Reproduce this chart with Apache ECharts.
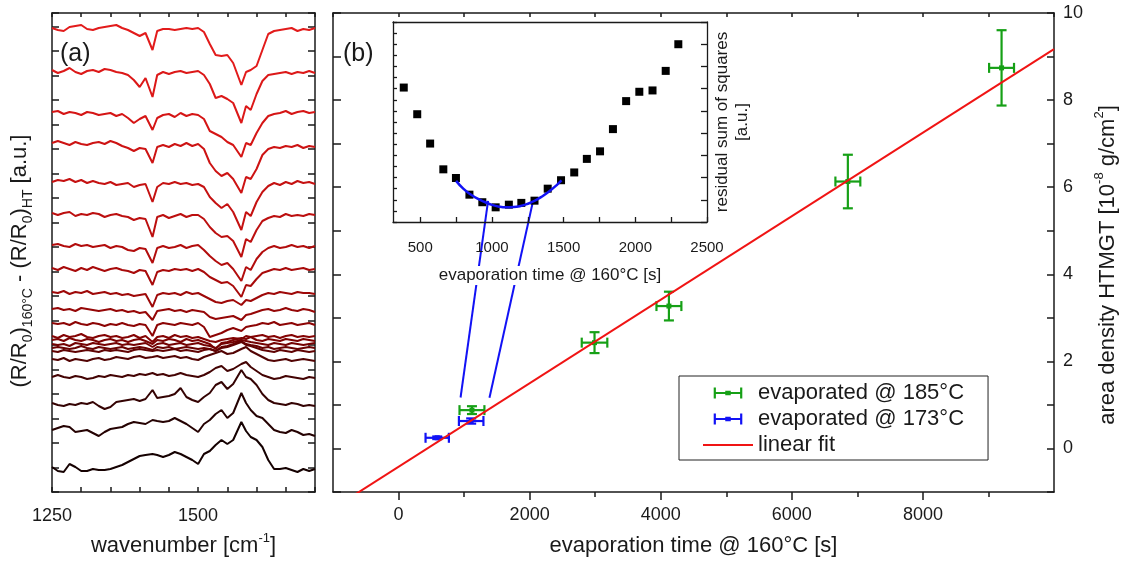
<!DOCTYPE html>
<html><head><meta charset="utf-8">
<script src="https://cdn.jsdelivr.net/npm/echarts@6/dist/echarts.min.js"></script>
<style>html,body{margin:0;padding:0;background:#fff}#c{width:1125px;height:563px}</style>
</head><body><div id="c"></div>
<script>
// ---------- panel (a): spectra ----------
const wavenumbers = [1250,1260,1270,1280,1290,1300,1310,1320,1330,1340,1350,1360,1370,1380,1390,1400,1410,1422,1430,1440,1450,1460,1470,1480,1490,1500,1510,1520,1530,1540,1550,1560,1574,1582,1590,1600,1610,1620,1630,1640,1650,1660,1670,1680,1690,1700];
const spectraOffsets = [464,422,380,349,310,279,247,224,200,183,169,156,152,148,144,141,133,115,89,62,25];
const spectrum01 = [0,-2,-3,1,2,3,-1,-2,0,1, 2,3,0,-2,-5,-8,-5,-22,-3,-1, -1,-2,-1,0,-1,0,-4,-16,-27,-28, -27,-35,-57,-44,-42,-38,-22,-6,-3,-2, -1,0,-3,-1,-2,0];
const spectrum02 = [0,-3,-1,2,-2,-4,-1,0,-2,1, 0,-2,-3,-5,-10,-17,-8,-27,-5,-2, -4,-2,-1,-3,-2,-1,-5,-14,-28,-26, -29,-33,-53,-36,-40,-24,-11,-5,-4,-3, -2,-4,-2,-3,-1,-3];
const spectrum03 = [0,1,-2,0,-1,-3,0,-1,-3,-2, -1,-4,-2,-6,-11,-7,-4,-18,-6,-3, -2,-5,-1,-4,-2,-3,-7,-19,-22,-25, -30,-33,-45,-31,-33,-21,-11,-4,-2,-1, 1,-2,0,1,-1,0];
const spectrum04 = [0,2,0,-2,1,-1,-2,0,1,-1, 2,0,-3,-5,-8,-5,-6,-20,-4,-2, -4,-1,-3,0,-3,-1,-6,-20,-28,-33, -30,-36,-50,-34,-36,-26,-12,-6,-4,-5, -3,-4,-2,-5,-3,-4];
const spectrum05 = [0,2,1,3,0,2,-1,1,-1,-2, 0,-3,-2,-1,-5,-3,-2,-20,-5,-1, -2,0,-2,-1,-3,-2,-5,-15,-21,-26, -22,-30,-48,-30,-34,-20,-10,-4,-1,-3, 0,-2,1,-1,0,-2];
const spectrum06 = [0,-2,0,1,-3,-1,-2,0,-1,-4, -2,-1,-3,-4,-7,-5,-6,-24,-4,-2, -5,-3,-1,-4,-2,-2,-6,-14,-20,-24, -23,-28,-44,-26,-29,-17,-8,-5,-3,-4, -1,-3,-2,-3,-1,-2];
const spectrum07 = [0,1,-1,-2,1,-1,0,-2,-1,0, -3,-1,-2,-5,-6,-3,-4,-18,-3,-1, -3,-2,0,-3,-1,0,-5,-11,-16,-20, -18,-24,-36,-22,-25,-14,-7,-3,-1,-3, -2,0,-2,-1,-3,-1];
const spectrum08 = [0,-2,1,-1,-3,0,-2,1,-1,-3, -1,0,-2,-3,-5,-2,-3,-17,-4,-2, -3,-1,-2,-1,-3,-1,-4,-9,-12,-15, -14,-18,-29,-17,-18,-11,-5,-3,-1,-2, 0,-2,-1,0,-2,-1];
const spectrum09 = [0,-1,1,-2,0,-1,1,-2,-1,0, -2,-1,-3,-2,-4,-3,-2,-15,-3,-1, -2,-1,-3,0,-2,-1,-4,-7,-10,-11, -9,-8,-13,-8,-9,-6,-3,-1,-2,0, -1,-2,0,-1,-1,-2];
const spectrum10 = [0,1,-1,0,-2,1,0,-1,-2,-1, 0,-2,-1,-3,-2,-4,-3,-11,-2,-1, 0,-2,-1,-3,-1,-2,-3,-8,-10,-9, -8,-7,-11,-6,-5,-3,-1,0,-2,-1, 1,-1,-2,0,-1,-3];
const spectrum11 = [0,-1,0,-2,1,-1,-2,0,-1,-3, -1,-2,0,-2,-3,-1,-2,-13,-2,0, -1,-2,0,-1,-2,0,-4,-14,-12,-10, -7,-5,-8,-4,-3,-2,0,-1,1,-2, -1,0,-2,-1,0,-2];
const spectrum12 = [0,-2,1,-1,0,2,-1,-2,0,1, -1,0,-2,-1,1,-2,0,-6,-1,0, -2,1,-1,0,-2,-1,-3,-5,-6,-4, -3,-2,-3,0,-1,0,1,-1,0,-2, 0,1,-1,0,-1,0];
const spectrum13 = [0,1,-1,2,0,-1,1,0,-2,0, 1,-1,0,-2,0,1,-1,-4,0,-1, 1,0,-2,1,-1,0,-2,-4,-9,-3, -2,0,2,1,3,0,-1,1,0,-1, 1,0,-1,1,0,-1];
const spectrum14 = [0,-1,0,-2,1,0,-1,1,0,-1, 0,1,-1,0,-1,0,1,-3,0,1, -1,0,1,-1,0,1,-1,-2,-4,0, 1,2,4,3,2,1,0,-1,1,0, -1,1,0,-1,0,1];
const spectrum15 = [0,1,0,-1,0,2,0,-1,1,0, -1,0,1,-1,0,1,0,-2,1,0, 1,-1,0,1,0,-1,0,-1,-3,1, 2,4,7,4,3,2,0,1,-1,0, 1,0,-1,0,1,0];
const spectrum16 = [0,-1,1,0,-1,0,1,0,-1,1, 0,1,0,-1,1,2,1,0,1,0, 1,2,0,1,0,-1,1,2,0,3, 4,6,9,6,5,3,1,0,-1,1, 0,-1,1,0,-1,0];
const spectrum17 = [0,-1,1,-2,0,-1,-2,0,1,-1, 0,2,1,0,2,3,1,2,3,1, 2,3,1,2,0,-1,2,4,6,8, 5,6,10,12,8,5,2,-1,-2,-1, 0,-2,-1,0,-1,-2];
const spectrum18 = [0,2,0,-1,1,0,-2,-1,1,0, 2,1,0,2,1,3,2,4,2,3, 1,2,4,2,1,0,2,5,9,11, 6,8,13,15,10,6,2,0,-2,-1, 1,0,-1,-2,0,-1];
const spectrum19 = [0,-2,-3,-1,-2,0,-1,1,-3,-6, -4,1,2,3,4,2,4,13,5,6, 7,9,15,6,3,1,6,10,18,21, 14,19,33,26,24,18,9,3,0,-1, -2,0,-1,-3,-2,-3];
const spectrum20 = [0,2,4,3,-2,-1,0,-3,-6,-2, 1,2,3,6,8,7,6,10,9,8, 9,12,9,6,2,-2,6,10,16,20, 12,17,37,27,20,14,12,6,0,-2, -3,0,-2,-5,-4,-6];
const spectrum21 = [0,-4,-5,3,0,-4,-4,-2,-3,-3, -2,0,2,5,8,11,12,13,12,10, 12,15,13,10,7,3,13,16,22,27, 23,27,45,36,30,27,20,7,-2,-2, -1,-3,-5,-2,-4,-2];
const spectraColors = ['#e21b1b','#dc1818','#d51515','#cd1313','#c51111','#bc0f0f','#b20c0c','#a80a0a','#9e0808','#950606','#8c0404','#840303','#7c0303','#740303','#6a0303','#600303','#520303','#430303','#340303','#250202','#150101'];
const aXLabels = [1250, 1500];

// ---------- panel (b): area density ----------
const green185Time = [1120, 2990, 4125, 6855, 9200];
const green185Area = [0.88, 2.43, 3.27, 6.13, 8.74];
const green185TimeErr = [190, 195, 190, 190, 190];
const green185AreaErr = [0.09, 0.24, 0.33, 0.615, 0.865];
const blue173Time = [590, 1108];
const blue173Area = [0.245, 0.63];
const blue173TimeErr = [178, 187];
const blue173AreaErr = [0.03, 0.06];
const linearFitTime = [-1000, 10000];
const linearFitArea = [-1.38, 9.17];
const connector1Time = [1366, 946];
const connector1Area = [5.685, 1.17];
const connector2Time = [2058, 1387];
const connector2Area = [5.724, 1.165];
const bXLabels = [0, 2000, 4000, 6000, 8000];
const bXMinorTicks = [1000, 3000, 5000, 7000, 9000];
const bYLabels = [0, 2, 4, 6, 8, 10];

// ---------- inset ----------
const residualTime = [385,479,569,661,749,843,933,1026,1118,1205,1297,1389,1482,1574,1662,1754,1844,1936,2028,2120,2212,2300];
const residualValue = [6.05,4.85,3.53,2.37,1.98,1.23,0.89,0.66,0.78,0.86,0.96,1.50,1.88,2.23,2.84,3.18,4.18,5.44,5.86,5.92,6.80,8.00];
const parabolaTime = [750,800,850,900,950,1000,1050,1100,1150,1200,1250,1300,1350,1400,1450,1485];
const parabolaValue = [1.85,1.50,1.25,1.05,0.90,0.77,0.69,0.66,0.67,0.72,0.82,0.96,1.15,1.38,1.65,1.87];
const insetXLabels = [500, 1000, 1500, 2000, 2500];
const insetXTicks = [500, 750, 1000, 1250, 1500, 1750, 2000, 2250, 2500];

// ---------- styles ----------
const FONT = "'Liberation Sans', Arial, Helvetica, sans-serif";
const TXT = '#1a1a1a';
const GREEN = '#16a016';
const BLUE = '#1212f5';
const RED = '#f01414';
const LS = {color: TXT, width: 1.5};

const zip = (a, b) => a.map((v, i) => [v, b[i]]);
const spectraList = [spectrum01,spectrum02,spectrum03,spectrum04,spectrum05,spectrum06,spectrum07,spectrum08,spectrum09,spectrum10,spectrum11,spectrum12,spectrum13,spectrum14,spectrum15,spectrum16,spectrum17,spectrum18,spectrum19,spectrum20,spectrum21];

function errRender(color) {
  return function (params, api) {
    const x = api.value(0), y = api.value(1), ex = api.value(2), ey = api.value(3);
    const c = api.coord([x, y]);
    const l = api.coord([x - ex, y]), r = api.coord([x + ex, y]);
    const t = api.coord([x, y + ey]), b = api.coord([x, y - ey]);
    const cap = 5;
    const st = {stroke: color, lineWidth: 2.2, fill: null};
    return {type: 'group', children: [
      {type: 'line', shape: {x1: l[0], y1: c[1], x2: r[0], y2: c[1]}, style: st},
      {type: 'line', shape: {x1: l[0], y1: c[1] - cap, x2: l[0], y2: c[1] + cap}, style: st},
      {type: 'line', shape: {x1: r[0], y1: c[1] - cap, x2: r[0], y2: c[1] + cap}, style: st},
      {type: 'line', shape: {x1: c[0], y1: t[1], x2: c[0], y2: b[1]}, style: st},
      {type: 'line', shape: {x1: c[0] - cap, y1: t[1], x2: c[0] + cap, y2: t[1]}, style: st},
      {type: 'line', shape: {x1: c[0] - cap, y1: b[1], x2: c[0] + cap, y2: b[1]}, style: st},
      {type: 'rect', shape: {x: c[0] - 2.5, y: c[1] - 2.5, width: 5, height: 5}, style: {fill: color}}
    ]};
  };
}
const ERR_ICON = 'path://M0,0h2v10h-2zM24,0h2v10h-2zM0,4h26v2h-26zM10.5,3h5v4h-5z';

const spectraSeries = spectraList.map((arr, i) => ({
  type: 'line', xAxisIndex: 0, yAxisIndex: 0, symbol: 'none', silent: true,
  data: wavenumbers.map((w, j) => [w, spectraOffsets[i] + arr[j]]),
  lineStyle: {color: spectraColors[i], width: 2}, z: 2
}));

const noLabel = {show: false};
const axisBase = (extra) => Object.assign({
  type: 'value', splitLine: {show: false},
  axisLine: {show: true, onZero: false, lineStyle: LS}
}, extra);

const option = {
  animation: false,
  backgroundColor: '#fff',
  textStyle: {fontFamily: FONT, color: TXT},
  grid: [
    {left: 52, top: 13, width: 263, height: 479, containLabel: false, outerBoundsMode: 'none'},
    {left: 333, top: 13, width: 721, height: 479, containLabel: false, outerBoundsMode: 'none'},
    {left: 393, top: 22, width: 314, height: 200, containLabel: false, outerBoundsMode: 'none'}
  ],
  xAxis: [
    axisBase({gridIndex: 0, position: 'bottom', min: 1250, max: 1700, interval: 50,
      axisTick: {show: true, inside: true, length: 5, lineStyle: LS},
      axisLabel: {show: true, fontSize: 18, color: TXT, fontFamily: FONT, margin: 15, showMinLabel: true, showMaxLabel: true,
        formatter: v => aXLabels.includes(v) ? String(v) : ''},
      name: 'wavenumber [cm{sup|-1}]', nameLocation: 'middle', nameGap: 40,
      nameTextStyle: {fontSize: 22, color: TXT, fontFamily: FONT, lineHeight: 28,
        rich: {sup: {fontSize: 13, color: TXT, fontFamily: FONT, verticalAlign: 'top', lineHeight: 14}}}}),
    axisBase({gridIndex: 0, position: 'top', min: 1250, max: 1700, interval: 50,
      axisTick: {show: true, inside: true, length: 4, lineStyle: LS}, axisLabel: noLabel}),
    axisBase({gridIndex: 1, position: 'bottom', min: -1000, max: 10000, interval: 1000,
      axisTick: {show: true, inside: false, length: 8, lineStyle: LS, customValues: bXLabels},
      axisLabel: {show: true, fontSize: 18, color: TXT, fontFamily: FONT, margin: 14, customValues: bXLabels,
        formatter: v => bXLabels.includes(v) ? String(v) : ''},
      name: 'evaporation time @ 160°C [s]', nameLocation: 'middle', nameGap: 40,
      nameTextStyle: {fontSize: 22, color: TXT, fontFamily: FONT, lineHeight: 28}}),
    axisBase({gridIndex: 1, position: 'bottom', min: -1000, max: 10000, interval: 1000,
      axisLine: {show: false, onZero: false},
      axisTick: {show: true, inside: false, length: 5, lineStyle: LS, customValues: bXMinorTicks},
      axisLabel: noLabel}),
    axisBase({gridIndex: 1, position: 'top', min: -1000, max: 10000, interval: 1000,
      axisTick: {show: true, inside: true, length: 4, lineStyle: LS}, axisLabel: noLabel}),
    axisBase({gridIndex: 2, position: 'bottom', min: 310, max: 2500, z: 10,
      axisLine: {show: true, onZero: false, lineStyle: {color: TXT, width: 1.3}},
      axisTick: {show: true, inside: true, length: 5, lineStyle: {color: TXT, width: 1.3}, customValues: insetXTicks},
      axisLabel: {show: true, fontSize: 15, color: TXT, fontFamily: FONT, margin: 18, customValues: insetXLabels,
        formatter: v => String(v)},
      name: 'evaporation time @ 160°C [s]', nameLocation: 'middle', nameGap: 44,
      nameTextStyle: {fontSize: 17, color: TXT, fontFamily: FONT, backgroundColor: '#fff', padding: [1, 3]}}),
    axisBase({gridIndex: 2, position: 'top', min: 310, max: 2500,
      axisLine: {show: true, onZero: false, lineStyle: {color: TXT, width: 1.3}},
      axisTick: {show: false}, axisLabel: noLabel})
  ],
  yAxis: [
    axisBase({gridIndex: 0, position: 'left', min: 0, max: 479, interval: 24.5,
      axisTick: {show: true, inside: true, length: 7, lineStyle: LS}, axisLabel: noLabel}),
    axisBase({gridIndex: 0, position: 'right', min: 0, max: 479, interval: 24.5,
      axisTick: {show: true, inside: true, length: 7, lineStyle: LS}, axisLabel: noLabel}),
    axisBase({gridIndex: 1, position: 'left', min: -1, max: 10, interval: 1,
      axisTick: {show: true, inside: true, length: 8, lineStyle: LS}, axisLabel: noLabel}),
    axisBase({gridIndex: 1, position: 'right', min: -1, max: 10, interval: 1,
      axisTick: {show: true, inside: true, length: 7, lineStyle: LS},
      axisLabel: {show: true, fontSize: 18, color: TXT, fontFamily: FONT, margin: 9,
        formatter: v => bYLabels.includes(v) ? String(v) : ''}}),
    axisBase({gridIndex: 2, position: 'left', min: 0, max: 9, interval: 0.5,
      axisLine: {show: true, onZero: false, lineStyle: {color: TXT, width: 1.3}},
      axisTick: {show: true, inside: true, length: 4, lineStyle: {color: TXT, width: 1.3}}, axisLabel: noLabel}),
    axisBase({gridIndex: 2, position: 'right', min: 0, max: 9, interval: 1,
      axisLine: {show: true, onZero: false, lineStyle: {color: TXT, width: 1.3}},
      axisTick: {show: true, inside: true, length: 6, lineStyle: {color: TXT, width: 1.3}}, axisLabel: noLabel})
  ],
  legend: {
    orient: 'vertical', left: 679, top: 376, padding: [6, 24, 4, 24], itemGap: 4,
    itemWidth: 50, itemHeight: 11, borderColor: '#222', borderWidth: 1, selectedMode: false,
    backgroundColor: '#fff',
    textStyle: {fontSize: 22, color: TXT, fontFamily: FONT},
    data: [
      {name: 'evaporated @ 185°C', icon: ERR_ICON},
      {name: 'evaporated @ 173°C', icon: ERR_ICON},
      {name: 'linear fit', icon: 'path://M0,0h50v2h-50z'}
    ]
  },
  graphic: [
    {type: 'text', x: 60, y: 54, z: 100, style: {text: '(a)', font: '25px ' + FONT, fill: TXT, align: 'left', verticalAlign: 'middle'}},
    {type: 'text', x: 343, y: 54, z: 100, style: {text: '(b)', font: '25px ' + FONT, fill: TXT, align: 'left', verticalAlign: 'middle'}},
    {type: 'text', x: 20, y: 261, rotation: Math.PI / 2, z: 100, style: {
      text: '(R/R{sub|0}){sub|160°C} - (R/R{sub|0}){sub|HT} [a.u.]',
      font: '22px ' + FONT, fill: TXT, align: 'center', verticalAlign: 'middle', lineHeight: 30,
      rich: {sub: {fontSize: 14, fontFamily: FONT, fill: TXT, verticalAlign: 'bottom', lineHeight: 14}}}},
    {type: 'text', x: 1108, y: 265, rotation: Math.PI / 2, z: 100, style: {
      text: 'area density HTMGT [10{sup|-8} g/cm{sup|2}]',
      font: '22px ' + FONT, fill: TXT, align: 'center', verticalAlign: 'middle', lineHeight: 30,
      rich: {sup: {fontSize: 13, fontFamily: FONT, fill: TXT, verticalAlign: 'top', lineHeight: 14}}}},
    {type: 'text', x: 732, y: 122, rotation: Math.PI / 2, z: 100, style: {
      text: 'residual sum of squares\n[a.u.]',
      font: '17px ' + FONT, fill: TXT, align: 'center', verticalAlign: 'middle', lineHeight: 20}}
  ],
  series: spectraSeries.concat([
    {type: 'line', name: 'linear fit', xAxisIndex: 2, yAxisIndex: 3, symbol: 'none', clip: true,
      data: zip(linearFitTime, linearFitArea), lineStyle: {color: RED, width: 2}, itemStyle: {color: RED}, z: 5},
    {type: 'custom', name: 'evaporated @ 185°C', xAxisIndex: 2, yAxisIndex: 3, renderItem: errRender(GREEN),
      itemStyle: {color: GREEN}, encode: {x: 0, y: 1}, z: 4,
      data: green185Time.map((t, i) => [t, green185Area[i], green185TimeErr[i], green185AreaErr[i]])},
    {type: 'custom', name: 'evaporated @ 173°C', xAxisIndex: 2, yAxisIndex: 3, renderItem: errRender(BLUE),
      itemStyle: {color: BLUE}, encode: {x: 0, y: 1}, z: 4,
      data: blue173Time.map((t, i) => [t, blue173Area[i], blue173TimeErr[i], blue173AreaErr[i]])},
    {type: 'line', name: 'conn1', xAxisIndex: 2, yAxisIndex: 3, symbol: 'none', silent: true,
      data: zip(connector1Time, connector1Area), lineStyle: {color: BLUE, width: 2}, z: 3},
    {type: 'line', name: 'conn2', xAxisIndex: 2, yAxisIndex: 3, symbol: 'none', silent: true,
      data: zip(connector2Time, connector2Area), lineStyle: {color: BLUE, width: 2}, z: 3},
    {type: 'scatter', name: 'residual', xAxisIndex: 5, yAxisIndex: 4, symbol: 'rect', symbolSize: 8,
      data: zip(residualTime, residualValue), itemStyle: {color: '#000', opacity: 1}, z: 4},
    {type: 'line', name: 'parabola', xAxisIndex: 5, yAxisIndex: 4, symbol: 'none', smooth: true,
      data: zip(parabolaTime, parabolaValue), lineStyle: {color: BLUE, width: 2.5}, z: 5}
  ])
};

const chart = echarts.init(document.getElementById('c'), null, {renderer: 'canvas'});
chart.setOption(option);
</script>
</body></html>
